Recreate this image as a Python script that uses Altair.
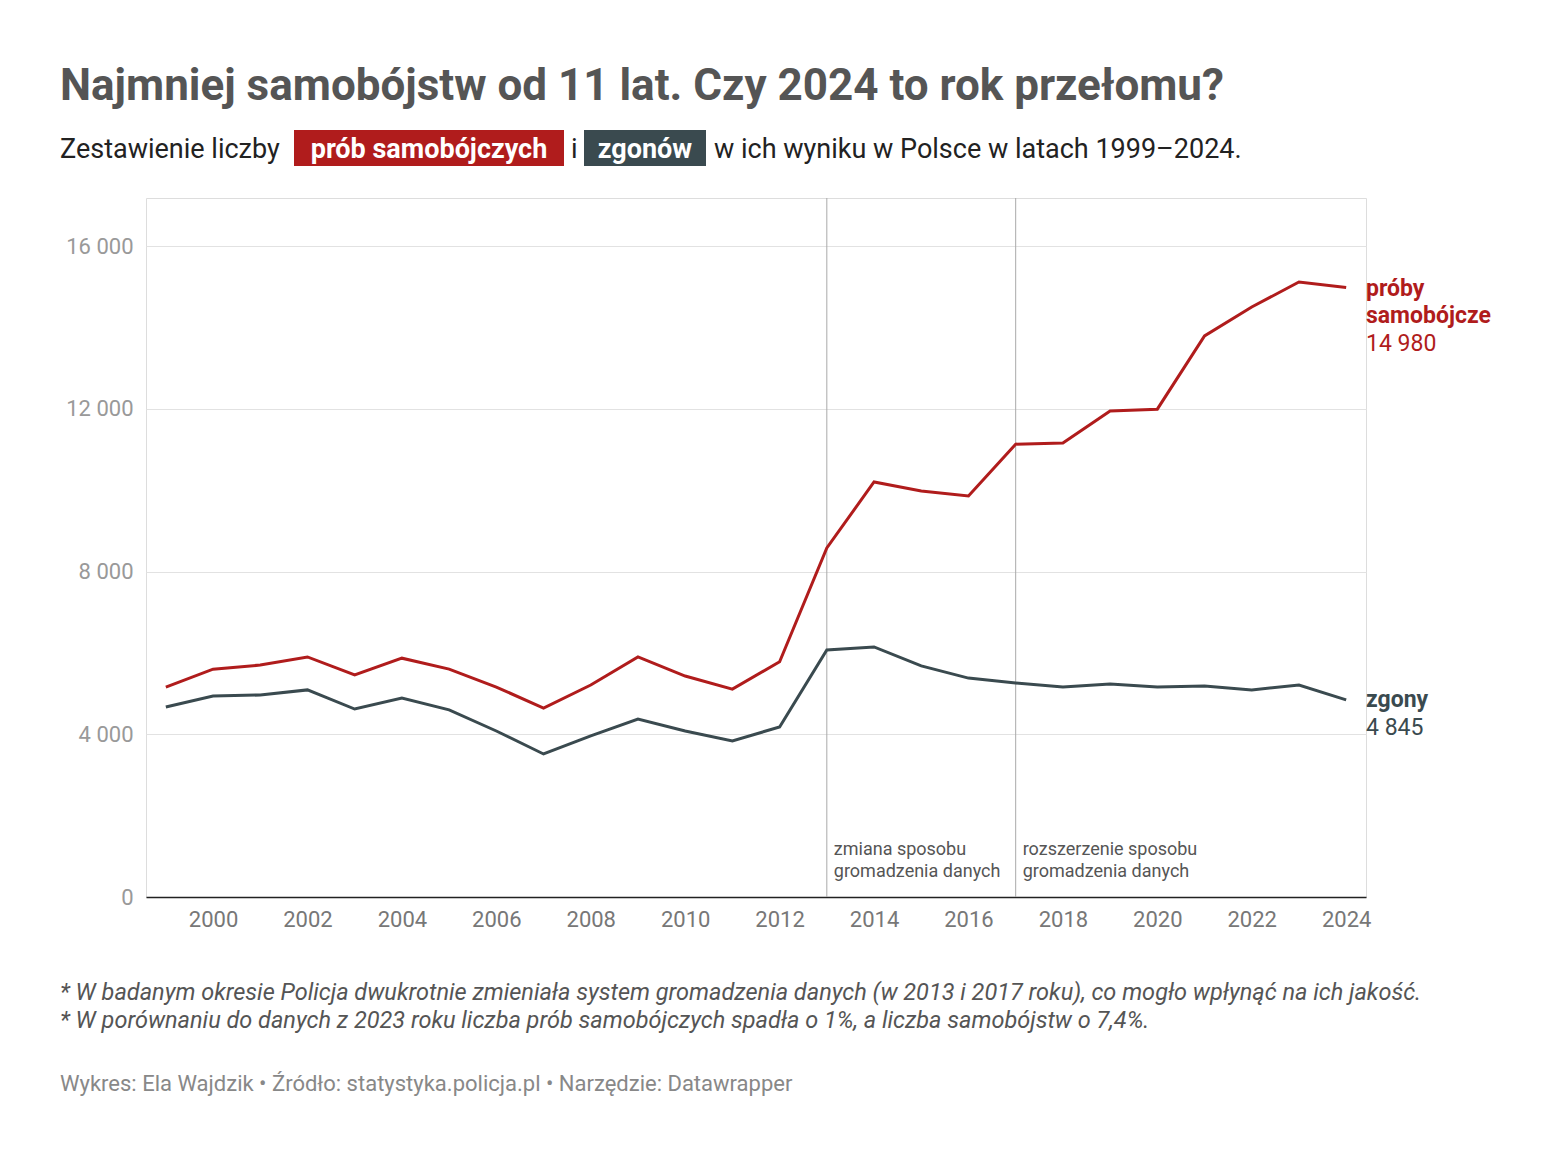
import altair as alt, pandas as pd

years = list(range(1999, 2025))
proby = [5160, 5600, 5700, 5900, 5460, 5870, 5600, 5160, 4645, 5210, 5900, 5430, 5110, 5780,
         8580, 10200, 9980, 9855, 11130, 11160, 11945, 11990, 13790, 14500, 15115, 14980]
zgony = [4670, 4940, 4965, 5090, 4620, 4890, 4600, 4080, 3515, 3960, 4375, 4080, 3835, 4180,
         6070, 6145, 5680, 5380, 5260, 5160, 5235, 5160, 5185, 5090, 5210, 4845]
series = ['proby', 'zgony']
colors = ['#b01c1c', '#3a4a4f']
breaks = [2013, 2017]
break_notes = [['zmiana sposobu', 'gromadzenia danych'], ['rozszerzenie sposobu', 'gromadzenia danych']]

df = pd.DataFrame({'year': years * 2, 'value': proby + zgony,
                   'series': ['proby'] * len(years) + ['zgony'] * len(years)})

F = 'Roboto'
xs = alt.Scale(domain=[1998.58, 2024.42], nice=False)
ys = alt.Scale(domain=[0, 17180], nice=False)

lines = alt.Chart(df).mark_line(strokeWidth=3).encode(
    x=alt.X('year:Q', scale=xs, title=None,
            axis=alt.Axis(values=list(range(2000, 2025, 2)), format='d', grid=False, ticks=False,
                          domainColor='#222', domainWidth=1.5, labelFontSize=22, labelColor='#777',
                          labelFont=F, labelPadding=12)),
    y=alt.Y('value:Q', scale=ys, title=None,
            axis=alt.Axis(values=[0, 4000, 8000, 12000, 16000], format=',d', domain=False, ticks=False,
                          gridColor='#e2e2e2', labelFontSize=22, labelColor='#999', labelFont=F,
                          labelPadding=13)),
    color=alt.Color('series:N', scale=alt.Scale(domain=series, range=colors), legend=None))

bdf = pd.DataFrame({'year': breaks, 'l1': [n[0] for n in break_notes], 'l2': [n[1] for n in break_notes]})
rules = alt.Chart(bdf).mark_rule(color='#aaa', strokeWidth=1).encode(
    x=alt.X('year:Q', scale=xs), y=alt.value(0), y2=alt.value(699))
n1 = alt.Chart(bdf).mark_text(align='left', dx=7, fontSize=18, color='#555', font=F).encode(
    x=alt.X('year:Q', scale=xs), y=alt.value(652), text='l1:N')
n2 = alt.Chart(bdf).mark_text(align='left', dx=7, fontSize=18, color='#555', font=F).encode(
    x=alt.X('year:Q', scale=xs), y=alt.value(674), text='l2:N')


def txt(s, x, y, size, color, weight='normal', style='normal', align='left'):
    return alt.Chart(pd.DataFrame({'t': [s]})).mark_text(
        align=align, baseline='alphabetic', fontSize=size, color=color, fontWeight=weight,
        fontStyle=style, font=F).encode(x=alt.value(x), y=alt.value(y), text='t:N')


def box(x1, x2, color):
    return alt.Chart(pd.DataFrame({'a': [0]})).mark_rect(color=color).encode(
        x=alt.value(x1), x2=alt.value(x2), y=alt.value(-68), y2=alt.value(-32))


W = 1220
texts = [
    txt('Najmniej samobójstw od 11 lat. Czy 2024 to rok przełomu?', -86, -98, 44, '#555', 'bold'),
    box(148, 418, colors[0]), box(438, 560, colors[1]),
    txt('Zestawienie liczby', -86, -40, 27, '#222'),
    txt('prób samobójczych', 283, -40, 27, '#fff', 'bold', align='center'),
    txt('i', 425, -40, 27, '#222'),
    txt('zgonów', 499, -40, 27, '#fff', 'bold', align='center'),
    txt('w ich wyniku w Polsce w latach 1999–2024.', 568, -40, 27, '#222'),
    txt('próby', W, 98, 23, colors[0], 'bold'),
    txt('samobójcze', W, 125, 23, colors[0], 'bold'),
    txt('14 980', W, 153, 23, colors[0]),
    txt('zgony', W, 509, 23, colors[1], 'bold'),
    txt('4 845', W, 537, 23, colors[1]),
    txt('* W badanym okresie Policja dwukrotnie zmieniała system gromadzenia danych (w 2013 i 2017 roku), co mogło wpłynąć na ich jakość.',
        -86, 802, 23.5, '#555', style='italic'),
    txt('* W porównaniu do danych z 2023 roku liczba prób samobójczych spadła o 1%, a liczba samobójstw o 7,4%.',
        -86, 830, 23.5, '#555', style='italic'),
    txt('Wykres: Ela Wajdzik • Źródło: statystyka.policja.pl • Narzędzie: Datawrapper', -86, 893, 22, '#888'),
]

chart = alt.layer(rules, n1, n2, lines, *texts).properties(
    width=W, height=699,
    autosize=alt.AutoSizeParams(type='none'),
    padding={'left': 138, 'top': 190, 'right': 174, 'bottom': 252},
).configure_view(strokeWidth=0).configure(locale={'number': {'decimal': ',', 'thousands': '\u00a0', 'grouping': [3], 'currency': ['', ' zł']}})

chart.save("out.html", embed_options={"renderer": "svg", "actions": False})
